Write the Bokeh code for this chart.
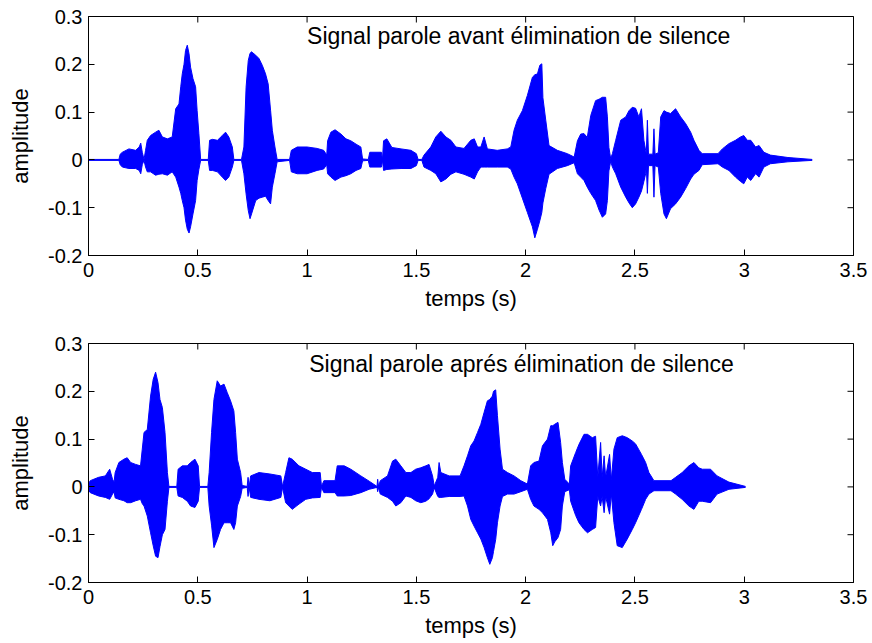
import math
from bokeh.plotting import figure
from bokeh.layouts import column
from bokeh.models import FixedTicker, Label, ColumnDataSource, Range1d
from bokeh.embed import file_html
from bokeh.resources import INLINE

# ---------------- data ----------------
x_ticks = [0, 0.5, 1, 1.5, 2, 2.5, 3, 3.5]
x_tick_labels = ["0", "0.5", "1", "1.5", "2", "2.5", "3", "3.5"]
y_ticks = [-0.2, -0.1, 0, 0.1, 0.2, 0.3]
y_tick_labels = ["-0.2", "-0.1", "0", "0.1", "0.2", "0.3"]

title_top = "Signal parole avant élimination de silence"
title_bottom = "Signal parole aprés élimination de silence"
x_label = "temps (s)"
y_label = "amplitude"

# envelope of the signal before silence removal: time, upper, lower
top_t = [0.000, 0.139, 0.145, 0.155, 0.185, 0.216, 0.232, 0.239, 0.246, 0.254,
         0.261, 0.269, 0.284, 0.307, 0.322, 0.338, 0.361, 0.383,
         0.399, 0.414, 0.422, 0.429, 0.437, 0.444, 0.452, 0.460, 0.467, 0.478, 0.490, 0.497, 0.505, 0.513,
         0.548, 0.554, 0.567, 0.590, 0.612, 0.627, 0.642, 0.658, 0.665,
         0.700, 0.711, 0.721, 0.731, 0.739, 0.746, 0.765, 0.780, 0.795, 0.810, 0.822, 0.833, 0.841, 0.853, 0.863,
         0.920, 0.928, 0.955, 1.000, 1.046, 1.076, 1.090,
         1.094, 1.109, 1.128, 1.155, 1.178, 1.200, 1.224, 1.246, 1.254,
         1.280, 1.287, 1.340, 1.345,
         1.350, 1.365, 1.388, 1.430, 1.475, 1.500, 1.508,
         1.525, 1.535, 1.566, 1.589, 1.612, 1.635, 1.658, 1.681, 1.718, 1.749, 1.765, 1.780,
         1.795, 1.810, 1.825, 1.870, 1.916,
         1.932, 1.947, 1.962, 1.985, 2.008, 2.031, 2.042, 2.054, 2.065, 2.074, 2.079, 2.092, 2.107, 2.145, 2.191, 2.222,
         2.237, 2.252, 2.267, 2.282, 2.298, 2.320, 2.336, 2.351, 2.366, 2.374, 2.381, 2.389,
         2.397, 2.412, 2.435, 2.458, 2.473, 2.488, 2.503, 2.518, 2.530, 2.541, 2.549,
         2.552, 2.557, 2.562, 2.582, 2.587, 2.592, 2.607,
         2.618, 2.633, 2.644, 2.663, 2.686, 2.709, 2.732, 2.755, 2.770, 2.793, 2.808,
         2.880, 2.900, 2.930, 2.960, 2.983, 2.998, 3.014, 3.030, 3.052, 3.068, 3.090, 3.120,
         3.200, 3.311]
top_up = [0.001, 0.001, 0.012, 0.016, 0.023, 0.020, 0.027, 0.035, 0.016, 0.001,
          0.020, 0.041, 0.051, 0.058, 0.062, 0.048, 0.044, 0.048,
          0.107, 0.117, 0.153, 0.180, 0.200, 0.229, 0.240, 0.222, 0.194, 0.170, 0.153, 0.103, 0.055, 0.001,
          0.001, 0.041, 0.043, 0.041, 0.051, 0.058, 0.048, 0.027, 0.001,
          0.001, 0.027, 0.152, 0.208, 0.223, 0.226, 0.219, 0.212, 0.198, 0.180, 0.159, 0.104, 0.062, 0.027, 0.001,
          0.001, 0.020, 0.027, 0.027, 0.024, 0.020, 0.010,
          0.040, 0.058, 0.063, 0.054, 0.044, 0.040, 0.033, 0.027, 0.002,
          0.001, 0.016, 0.016, 0.001,
          0.040, 0.044, 0.026, 0.023, 0.020, 0.013, 0.001,
          0.001, 0.010, 0.027, 0.048, 0.060, 0.048, 0.041, 0.027, 0.024, 0.041, 0.044, 0.027,
          0.027, 0.048, 0.023, 0.020, 0.023,
          0.027, 0.062, 0.083, 0.103, 0.135, 0.173, 0.178, 0.180, 0.198, 0.201, 0.130, 0.083, 0.030, 0.020, 0.013, 0.006,
          0.040, 0.054, 0.055, 0.047, 0.093, 0.124, 0.127, 0.131, 0.131, 0.090, 0.026, 0.003,
          0.013, 0.041, 0.083, 0.090, 0.103, 0.110, 0.108, 0.090, 0.107, 0.041, 0.020,
          0.012, 0.083, 0.012, 0.012, 0.065, 0.012, 0.015,
          0.090, 0.103, 0.100, 0.097, 0.107, 0.090, 0.076, 0.058, 0.041, 0.020, 0.013,
          0.013, 0.023, 0.034, 0.041, 0.048, 0.051, 0.041, 0.041, 0.027, 0.030, 0.016, 0.010,
          0.005, 0.001]
top_lo = [-0.001, -0.001, -0.010, -0.015, -0.018, -0.018, -0.022, -0.029, -0.010, -0.001,
          -0.015, -0.025, -0.025, -0.032, -0.030, -0.029, -0.032, -0.025,
          -0.036, -0.057, -0.070, -0.085, -0.100, -0.126, -0.145, -0.153, -0.140, -0.113, -0.085, -0.043, -0.020, -0.001,
          -0.001, -0.022, -0.022, -0.025, -0.036, -0.043, -0.036, -0.015, -0.001,
          -0.001, -0.029, -0.071, -0.106, -0.123, -0.113, -0.085, -0.080, -0.078, -0.076, -0.085, -0.092, -0.057, -0.029, -0.004,
          -0.001, -0.025, -0.029, -0.029, -0.022, -0.019, -0.010,
          -0.029, -0.036, -0.043, -0.036, -0.033, -0.029, -0.022, -0.018, -0.002,
          -0.001, -0.015, -0.015, -0.001,
          -0.022, -0.020, -0.019, -0.018, -0.018, -0.012, -0.001,
          -0.001, -0.015, -0.022, -0.029, -0.046, -0.040, -0.030, -0.025, -0.030, -0.036, -0.040, -0.025,
          -0.015, -0.015, -0.015, -0.015, -0.015,
          -0.019, -0.036, -0.050, -0.080, -0.110, -0.140, -0.163, -0.145, -0.127, -0.110, -0.090, -0.060, -0.030, -0.018, -0.012, -0.006,
          -0.029, -0.036, -0.043, -0.057, -0.070, -0.085, -0.105, -0.120, -0.113, -0.085, -0.023, -0.003,
          -0.015, -0.029, -0.057, -0.078, -0.090, -0.100, -0.092, -0.078, -0.065, -0.045, -0.029,
          -0.012, -0.070, -0.012, -0.012, -0.078, -0.012, -0.015,
          -0.070, -0.113, -0.123, -0.102, -0.092, -0.078, -0.060, -0.040, -0.030, -0.022, -0.010,
          -0.008, -0.015, -0.022, -0.036, -0.045, -0.050, -0.036, -0.043, -0.029, -0.036, -0.015, -0.008,
          -0.004, -0.001]

# envelope of the signal after silence removal: time, upper, lower
bot_t = [0.000, 0.008, 0.046, 0.077, 0.097, 0.110, 0.117,
         0.122, 0.139, 0.162, 0.177, 0.193, 0.216, 0.238,
         0.246, 0.254, 0.269, 0.284, 0.296, 0.307, 0.318, 0.327, 0.338, 0.350, 0.361, 0.368,
         0.404, 0.410, 0.429, 0.452, 0.467, 0.487, 0.502, 0.508,
         0.546, 0.552, 0.563, 0.574, 0.589, 0.604, 0.620, 0.635, 0.650, 0.665, 0.673, 0.681, 0.696, 0.703,
         0.726, 0.730, 0.735,
         0.742, 0.780, 0.830, 0.880, 0.888,
         0.902, 0.917, 0.932, 0.963, 0.994, 1.024, 1.060, 1.066,
         1.077, 1.128,
         1.138, 1.170, 1.200, 1.246, 1.284,
         1.320, 1.323, 1.327,
         1.335, 1.368, 1.391, 1.406, 1.429, 1.452, 1.475, 1.497, 1.520, 1.543, 1.558, 1.574, 1.582,
         1.598, 1.604, 1.612, 1.650, 1.700,
         1.718, 1.734, 1.749, 1.764, 1.780, 1.795, 1.810, 1.825, 1.836, 1.848, 1.853, 1.863, 1.871, 1.883, 1.894,
         1.917, 1.947, 1.978, 2.008,
         2.023, 2.038, 2.061, 2.077, 2.100, 2.115, 2.124, 2.133, 2.148, 2.160, 2.168, 2.179, 2.200,
         2.206, 2.229, 2.244, 2.267, 2.283, 2.305, 2.320,
         2.330, 2.343, 2.350, 2.359, 2.366, 2.384, 2.392,
         2.404, 2.419, 2.442, 2.465, 2.488, 2.503, 2.530, 2.549, 2.564, 2.587,
         2.665, 2.686, 2.716, 2.747, 2.770, 2.792, 2.808, 2.846, 2.876, 2.930, 3.006]
bot_up = [0.006, 0.013, 0.020, 0.023, 0.037, 0.016, 0.010,
          0.030, 0.051, 0.058, 0.061, 0.051, 0.047, 0.044,
          0.079, 0.114, 0.120, 0.190, 0.225, 0.240, 0.218, 0.183, 0.166, 0.114, 0.030, 0.001,
          0.001, 0.037, 0.044, 0.044, 0.051, 0.058, 0.044, 0.001,
          0.001, 0.030, 0.114, 0.183, 0.222, 0.211, 0.215, 0.197, 0.180, 0.159, 0.114, 0.058, 0.030, 0.003,
          0.001, 0.020, 0.001,
          0.023, 0.030, 0.027, 0.023, 0.001,
          0.030, 0.061, 0.058, 0.044, 0.037, 0.030, 0.030, 0.001,
          0.013, 0.013,
          0.044, 0.044, 0.037, 0.023, 0.012,
          0.001, 0.016, 0.001,
          0.013, 0.023, 0.054, 0.058, 0.044, 0.030, 0.030, 0.037, 0.040, 0.044, 0.047, 0.023, 0.002,
          0.020, 0.051, 0.030, 0.023, 0.023,
          0.044, 0.065, 0.086, 0.096, 0.114, 0.131, 0.156, 0.180, 0.183, 0.190, 0.200, 0.203, 0.149, 0.079, 0.037,
          0.030, 0.023, 0.013, 0.006,
          0.044, 0.051, 0.054, 0.086, 0.100, 0.128, 0.128, 0.131, 0.135, 0.093, 0.051, 0.016, 0.006,
          0.044, 0.072, 0.089, 0.110, 0.110, 0.103, 0.106,
          0.020, 0.093, 0.020, 0.065, 0.020, 0.068, 0.015,
          0.079, 0.103, 0.107, 0.103, 0.096, 0.090, 0.068, 0.051, 0.030, 0.013,
          0.013, 0.020, 0.030, 0.044, 0.051, 0.040, 0.037, 0.037, 0.023, 0.010, 0.001]
bot_lo = [-0.006, -0.012, -0.019, -0.022, -0.026, -0.015, -0.010,
          -0.023, -0.026, -0.029, -0.033, -0.033, -0.029, -0.026,
          -0.035, -0.040, -0.061, -0.096, -0.123, -0.145, -0.148, -0.125, -0.100, -0.089, -0.030, -0.001,
          -0.001, -0.019, -0.022, -0.030, -0.040, -0.043, -0.030, -0.001,
          -0.001, -0.040, -0.080, -0.127, -0.110, -0.089, -0.075, -0.075, -0.075, -0.089, -0.075, -0.040, -0.020, -0.003,
          -0.001, -0.020, -0.001,
          -0.022, -0.026, -0.029, -0.022, -0.001,
          -0.033, -0.040, -0.047, -0.036, -0.026, -0.023, -0.022, -0.001,
          -0.012, -0.012,
          -0.019, -0.019, -0.018, -0.012, -0.005,
          -0.001, -0.010, -0.001,
          -0.015, -0.022, -0.030, -0.040, -0.033, -0.019, -0.022, -0.029, -0.033, -0.030, -0.025, -0.015, -0.002,
          -0.020, -0.022, -0.022, -0.020, -0.020,
          -0.019, -0.040, -0.068, -0.082, -0.096, -0.109, -0.127, -0.148, -0.162, -0.148, -0.135, -0.110, -0.075, -0.040, -0.020,
          -0.015, -0.015, -0.010, -0.005,
          -0.026, -0.040, -0.047, -0.054, -0.068, -0.096, -0.123, -0.115, -0.106, -0.089, -0.040, -0.010, -0.006,
          -0.030, -0.060, -0.075, -0.089, -0.096, -0.089, -0.085,
          -0.020, -0.040, -0.020, -0.054, -0.020, -0.057, -0.015,
          -0.075, -0.123, -0.127, -0.109, -0.089, -0.075, -0.047, -0.026, -0.015, -0.008,
          -0.008, -0.015, -0.026, -0.040, -0.047, -0.030, -0.030, -0.033, -0.015, -0.005, -0.001]

# anchor positions (data units) of the in-plot texts
title_top_pos = (1.0, 0.259)
title_bottom_pos = (1.01, 0.258)

BLUE = "#0000ff"
FONT = "Liberation Sans"


def style_axis(ax, ticks, labels):
    ax.ticker = FixedTicker(ticks=ticks)
    ax.major_label_overrides = {k: v for k, v in zip(ticks, labels)}
    ax.minor_tick_line_color = None
    ax.major_tick_in = 6
    ax.major_tick_out = 0
    ax.major_tick_line_color = "black"
    ax.axis_line_color = "black"
    ax.major_label_text_font = FONT
    ax.major_label_text_color = "black"
    ax.major_label_text_font_size = "20px"
    ax.axis_label_text_font = FONT
    ax.axis_label_text_font_style = "normal"
    ax.axis_label_text_color = "black"
    ax.axis_label_text_font_size = "22px"


def make_fig(h, btop, bbottom, t, up, lo, title, title_pos):
    p = figure(width=872, height=h,
               x_range=Range1d(0, 3.5), y_range=Range1d(-0.2, 0.3),
               output_backend="svg", toolbar_location=None,
               min_border_left=88, min_border_right=19,
               min_border_top=btop, min_border_bottom=bbottom)
    p.grid.visible = False
    p.outline_line_color = "black"
    p.outline_line_width = 1
    p.background_fill_color = "white"
    p.border_fill_color = "white"

    src = ColumnDataSource(dict(t=t, up=up, lo=lo))
    p.varea(x="t", y1="lo", y2="up", source=src, fill_color=BLUE)
    p.line(x="t", y="up", source=src, line_color=BLUE, line_width=1)
    p.line(x="t", y="lo", source=src, line_color=BLUE, line_width=1)

    style_axis(p.xaxis[0], x_ticks, x_tick_labels)
    style_axis(p.yaxis[0], y_ticks, y_tick_labels)
    p.xaxis[0].axis_label = x_label
    p.yaxis[0].axis_label = y_label
    p.xaxis[0].major_label_standoff = 7
    p.xaxis[0].axis_label_standoff = 6
    p.yaxis[0].major_label_standoff = 6
    p.yaxis[0].axis_label_standoff = 12

    # inward ticks on the top and right edges of the box (MATLAB style)
    p.scatter(x=x_ticks, y=[y_ticks[-1]] * len(x_ticks), marker="dash", size=12,
              angle=math.pi / 2, line_color="black", line_width=1)
    p.scatter(x=[x_ticks[-1]] * len(y_ticks), y=y_ticks, marker="dash", size=12,
              line_color="black", line_width=1)

    p.add_layout(Label(x=title_pos[0], y=title_pos[1], text=title,
                       text_font=FONT, text_font_size="23px", text_color="black",
                       text_baseline="alphabetic", text_align="left"))
    return p


p1 = make_fig(320, 16, 65, top_t, top_up, top_lo, title_top, title_top_pos)
p2 = make_fig(323, 23, 61, bot_t, bot_up, bot_lo, title_bottom, title_bottom_pos)

layout = column(p1, p2, spacing=0)
open("out.html", "w").write(file_html(layout, INLINE))
